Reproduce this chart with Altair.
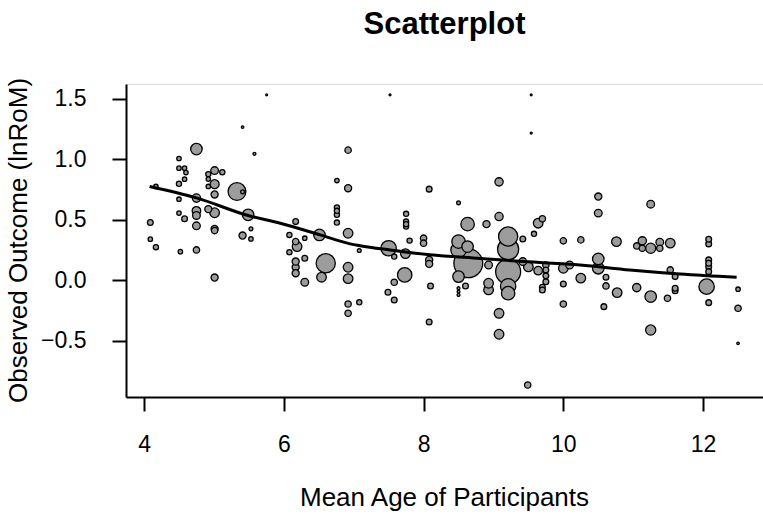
import altair as alt
import pandas as pd

# Mean age of participants (x)
age = [4.09, 4.09, 4.17, 4.17, 4.50, 4.50, 4.58, 4.60, 4.58, 4.50, 4.50, 4.50, 4.58, 4.52,
       4.75, 4.75, 4.75, 4.75, 4.75, 4.75, 4.92, 4.92, 4.92, 4.92, 5.01, 5.01, 5.01, 5.01,
       5.01, 5.01, 5.01, 5.12, 5.33, 5.41, 5.41, 5.41, 5.49, 5.53, 5.53, 5.58, 5.755,
       6.08, 6.08, 6.17, 6.17, 6.19, 6.17, 6.17, 6.17, 6.30, 6.30, 6.30, 6.51, 6.60, 6.54,
       6.76, 6.76, 6.76, 6.76, 6.76, 6.92, 6.92, 6.92, 6.92, 6.92, 6.92, 6.92, 7.08, 7.08,
       7.52, 7.50, 7.58, 7.58, 7.49, 7.58, 7.73, 7.74, 7.75, 7.75, 7.75, 7.75, 7.80,
       8.00, 8.00, 8.08, 8.08, 8.08, 8.10, 8.08,
       8.50, 8.63, 8.50, 8.50, 8.63, 8.64, 8.50, 8.50, 8.50, 8.50, 8.60,
       8.90, 8.93, 8.93, 8.93,
       9.08, 9.08, 9.08, 9.08, 9.21, 9.21, 9.21, 9.21, 9.21,
       9.42, 9.42, 9.50, 9.49, 9.54, 9.54, 9.58, 9.64, 9.70, 9.64, 9.75, 9.75, 9.75, 9.75,
       9.70, 9.70,
       10.00, 10.00, 10.00, 10.00, 10.09, 10.25, 10.25,
       10.50, 10.50, 10.50, 10.50, 10.61, 10.61, 10.58, 10.76, 10.77,
       11.05, 11.05, 11.13, 11.13, 11.25, 11.25, 11.25, 11.25, 11.38, 11.38, 11.53, 11.53,
       11.60, 11.60, 11.60, 11.49,
       12.08, 12.08, 12.08, 12.08, 12.08, 12.08, 12.05, 12.08, 12.50, 12.50, 12.50]

# Observed outcome (lnRoM) (y)
outcome = [0.476, 0.339, 0.774, 0.273, 1.005, 0.925, 0.925, 0.889, 0.834, 0.796, 0.669, 0.554, 0.507, 0.236,
           1.083, 0.678, 0.573, 0.534, 0.449, 0.250, 0.876, 0.835, 0.774, 0.587, 0.905, 0.793, 0.708, 0.557,
           0.424, 0.410, 0.022, 0.892, 0.732, 0.730, 1.264, 0.369, 0.540, 0.424, 0.341, 1.044, 1.531,
           0.374, 0.231, 0.484, 0.319, 0.278, 0.154, 0.107, 0.058, 0.347, 0.182, -0.017, 0.374, 0.140, 0.025,
           0.823, 0.600, 0.573, 0.540, 0.476, 1.074, 0.760, 0.388, 0.107, 0.013, -0.196, -0.273, 0.245, -0.182,
           1.531, 0.264, 0.195, -0.017, -0.099, -0.163, 0.044, 0.220, 0.548, 0.484, 0.463, 0.443, 0.327,
           0.347, 0.306, 0.752, 0.168, 0.135, -0.047, -0.345,
           0.639, 0.463, 0.319, 0.250, 0.278, 0.140, 0.030, -0.066, -0.094, -0.121, -0.047,
           0.463, 0.126, -0.025, -0.080,
           0.812, 0.526, -0.273, -0.446, 0.361, 0.256, 0.071, -0.050, -0.107,
           0.341, 0.154, 0.110, -0.865, 1.531, 1.215, 0.383, 0.471, 0.507, 0.079, 0.126, 0.085, 0.036, -0.012,
           -0.058, -0.080,
           0.325, 0.099, -0.031, -0.196, 0.126, 0.333, 0.017,
           0.691, 0.554, 0.176, 0.099, 0.025, -0.047, -0.218, 0.319, -0.102,
           0.283, -0.061, 0.325, 0.264, 0.264, 0.628, -0.135, -0.411, 0.314, 0.264, 0.306, 0.085,
           0.030, -0.066, -0.086, -0.149,
           0.339, 0.300, 0.168, 0.140, 0.112, 0.071, -0.053, -0.185, -0.074, -0.231, -0.521]

# Relative study weight (drives point area)
weight = [9, 5.3, 5.3, 7.3, 5.3, 5.3, 5.3, 5.3, 5.3, 7.3, 5.3, 5.3, 9, 5.3,
          36, 18.5, 20, 16, 16, 11, 7.3, 5.3, 5.3, 13.7, 16, 22, 13.7, 25,
          13.7, 11, 13.7, 7.3, 86, 4, 1.7, 13.7, 36, 4, 5.3, 2.3, 1,
          7.3, 7.3, 9, 11, 25, 13.7, 13.7, 13.7, 5.3, 9, 16, 36, 100, 25,
          5.3, 7.3, 7.3, 7.3, 7.3, 11, 13.7, 25, 25, 25, 11, 11, 4, 7.3,
          1, 64, 7.3, 11, 9, 9, 56, 25, 7.3, 7.3, 7.3, 7.3, 7.3,
          11, 11, 9, 13.7, 13.7, 9, 9,
          4, 49, 49, 64, 36, 225, 36, 2.3, 2.3, 2.3, 9,
          13.7, 16, 25, 25,
          18.5, 18.5, 25, 25, 100, 121, 169, 64, 49,
          9, 16, 25, 11, 1, 1, 7.3, 25, 11, 20, 11, 9, 9, 9,
          9, 9,
          11, 25, 9, 11, 16, 11, 25,
          13.7, 16, 36, 36, 9, 11, 9, 25, 25,
          11, 18.5, 18.5, 11, 28, 16, 36, 28, 16, 11, 25, 11,
          9, 9, 9, 11,
          9, 9, 9, 9, 9, 9, 64, 9, 5.3, 11, 1.7]

# Fitted curve
curve_age = [4.08, 4.75, 5.49, 5.95, 6.52, 6.95, 7.09, 7.52, 8.09, 8.81, 9.43, 10.24, 10.95, 11.67, 12.48]
curve_fit = [0.774, 0.680, 0.534, 0.470, 0.374, 0.300, 0.285, 0.250, 0.210, 0.180, 0.154, 0.126, 0.085, 0.052, 0.025]

FONT = "Liberation Sans"

pts = pd.DataFrame({"age": age, "yi": outcome, "w": weight}).sort_values("w", ascending=False)
pts["ord"] = range(len(pts))
line_df = pd.DataFrame({"age": curve_age, "fit": curve_fit})

xscale = alt.Scale(domain=[3.742, 12.857], nice=False, zero=False)
yscale = alt.Scale(domain=[-0.964, 1.62], nice=False, zero=False)

xaxis = alt.Axis(values=[4, 6, 8, 10, 12], format="d", title="Mean Age of Participants", grid=False,
                 domainColor="black", domainWidth=2, tickColor="black", tickWidth=2, tickSize=14,
                 labelFont=FONT, labelFontSize=23, labelColor="black", labelPadding=33,
                 labelBaseline="middle", labelFlush=False,
                 titleFont=FONT, titleFontSize=26, titleFontWeight="normal", titleColor="black",
                 titleX=318, titleY=100, titleBaseline="middle", titleAlign="center")
yaxis = alt.Axis(values=[-0.5, 0, 0.5, 1.0, 1.5], format=".1f", title="Observed Outcome (lnRoM)",
                 grid=False, domainColor="black", domainWidth=2, tickColor="black", tickWidth=2,
                 tickSize=14, labelFont=FONT, labelFontSize=23, labelColor="black", labelPadding=26,
                 labelFlush=False,
                 titleFont=FONT, titleFontSize=26, titleFontWeight="normal", titleColor="black",
                 titleAngle=270, titleX=-108, titleY=156, titleBaseline="middle", titleAlign="center")

points = alt.Chart(pts).mark_point(
    filled=True, shape="circle", fill="#9c9c9c", stroke="black", strokeWidth=1.3, opacity=1
).encode(
    x=alt.X("age:Q", scale=xscale, axis=xaxis),
    y=alt.Y("yi:Q", scale=yscale, axis=yaxis),
    size=alt.Size("w:Q", scale=alt.Scale(domain=[0, 225], range=[0, 830]), legend=None),
    order=alt.Order("ord:Q"),
)

curve = alt.Chart(line_df).mark_line(color="black", strokeWidth=3, interpolate="monotone").encode(
    x=alt.X("age:Q", scale=xscale),
    y=alt.Y("fit:Q", scale=yscale),
)

chart = alt.layer(points, curve).properties(
    width=637, height=313,
    padding={"left": 126, "top": 84, "right": 0, "bottom": 126},
    autosize=alt.AutoSizeParams(type="none"),
    title=alt.TitleParams("Scatterplot", font=FONT, fontSize=31, fontWeight="bold", color="black",
                          anchor="middle", frame="group", offset=12, baseline="alphabetic"),
).configure_view(stroke=None).configure(background="white")

chart.save("out.html", embed_options={"renderer": "svg", "actions": False})
